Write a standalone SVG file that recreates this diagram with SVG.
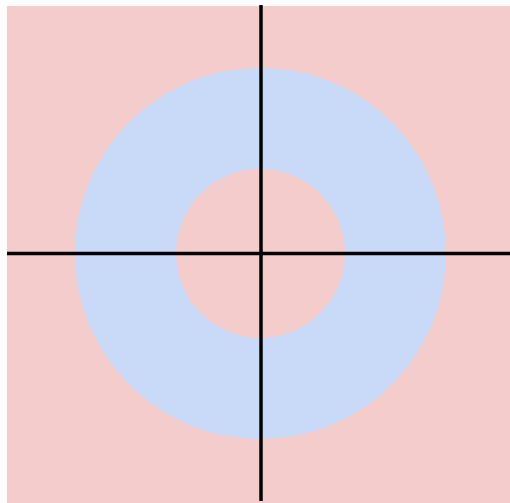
<svg xmlns="http://www.w3.org/2000/svg" width="510" height="503" viewBox="0 0 510 503">
<style>
.axis{stroke:#000;stroke-width:3.5;fill:none}
</style>
<rect width="510" height="503" fill="#fff"/>
<g id="background"><rect x="7" y="6" width="503" height="497" fill="#f4cccc"/></g>
<g id="ring"><circle cx="260.5" cy="253.5" r="185.5" fill="#c9daf8"/></g>
<g id="hole"><circle cx="260.5" cy="253.5" r="84.5" fill="#f4cccc"/></g>
<g id="connectors">
<line class="axis" x1="261" y1="5" x2="261" y2="501"/>
<line class="axis" x1="7" y1="253.5" x2="510" y2="253.5"/>
</g>
</svg>
